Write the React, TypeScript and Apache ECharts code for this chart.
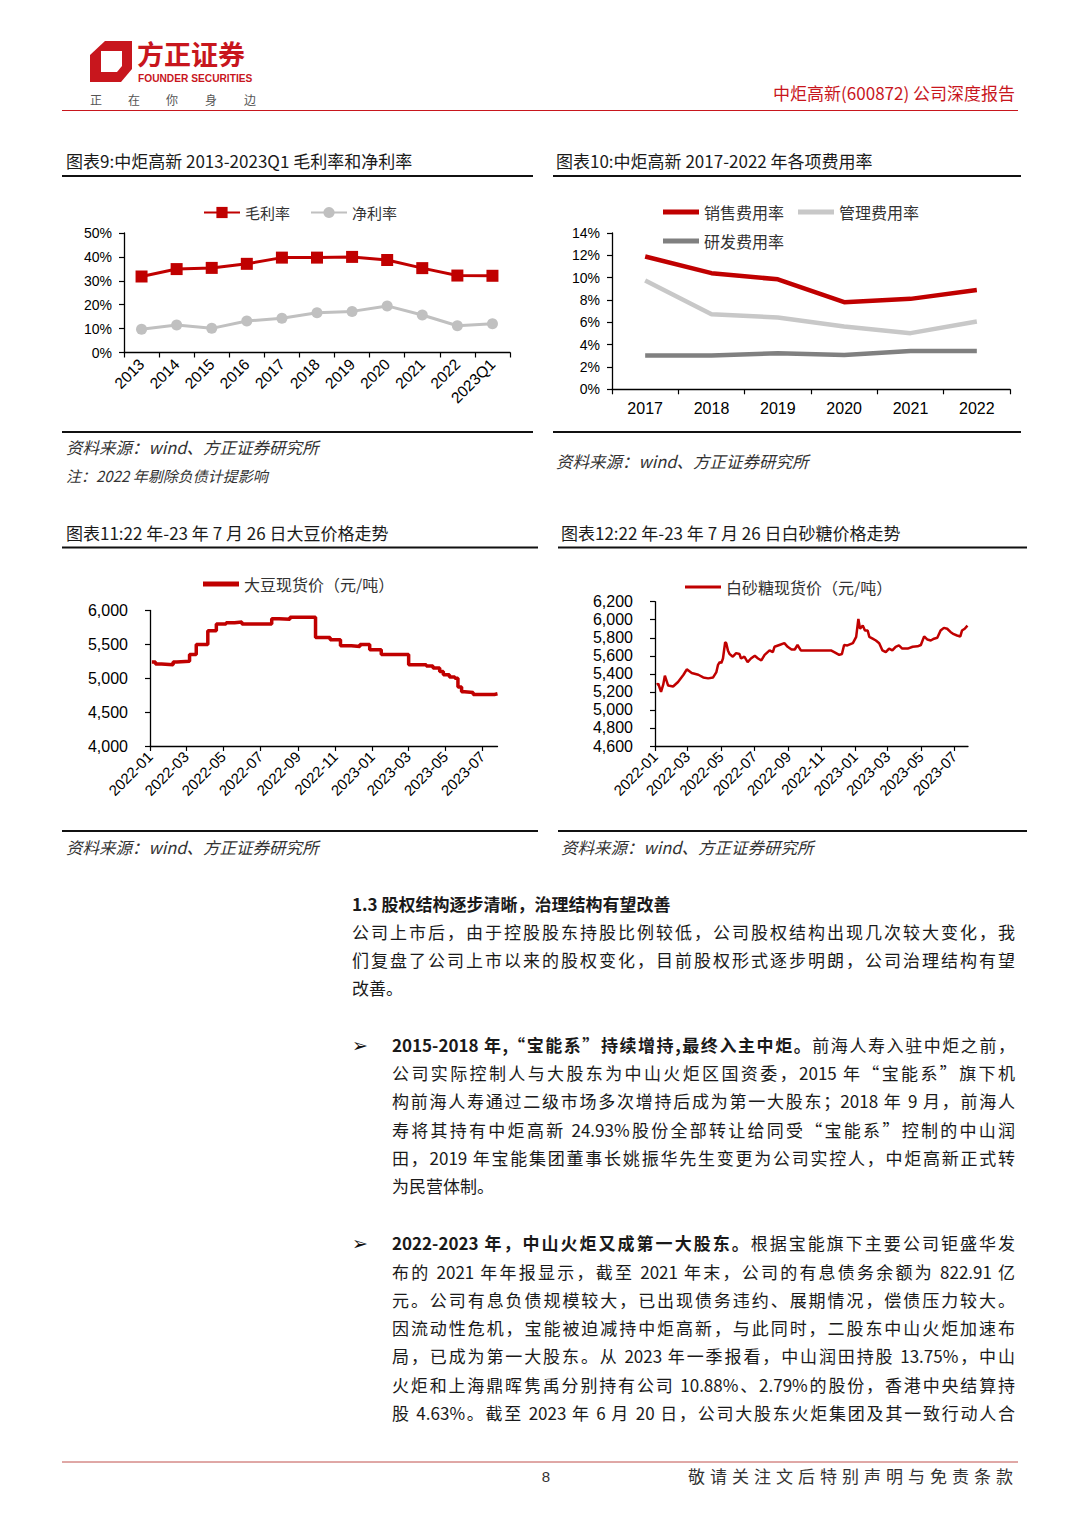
import React, { useEffect, useRef } from "react";
import * as echarts from "echarts";

const RED = "#C00000";
const BRAND = "#C8161D";
const CJK = '"Noto Sans CJK SC"';
const LAT = '"Liberation Sans"';

// ---------- Chart 9 ----------
const years9 = ["2013", "2014", "2015", "2016", "2017", "2018", "2019", "2020", "2021", "2022", "2023Q1"];
const grossMargin = [31.8, 34.9, 35.4, 37.1, 39.7, 39.7, 40.0, 38.7, 35.3, 32.2, 32.1];
const netMargin = [9.7, 11.5, 10.1, 13.2, 14.3, 16.6, 17.2, 19.5, 15.7, 11.2, 12.0];

// ---------- Chart 10 ----------
const years10 = ["2017", "2018", "2019", "2020", "2021", "2022"];
const salesRate = [11.9, 10.4, 9.85, 7.8, 8.1, 8.9];
const adminRate = [9.75, 6.73, 6.43, 5.62, 5.03, 6.07];
const rdRate = [3.02, 3.02, 3.23, 3.08, 3.44, 3.44];

// ---------- Chart 11: soybean spot price (change points) ----------
const soyPrice: [string, number][] = [
  ["2022-01-04", 5240], ["2022-01-10", 5210], ["2022-01-20", 5200], ["2022-02-08", 5240],
  ["2022-02-14", 5250], ["2022-03-07", 5350], ["2022-03-18", 5500], ["2022-04-06", 5700],
  ["2022-04-20", 5800], ["2022-05-06", 5820], ["2022-05-20", 5830], ["2022-06-01", 5800],
  ["2022-07-20", 5880], ["2022-08-01", 5870], ["2022-08-19", 5900], ["2022-09-30", 5600],
  ["2022-10-24", 5570], ["2022-11-10", 5480], ["2022-11-28", 5470], ["2022-12-12", 5500],
  ["2022-12-28", 5420], ["2023-01-16", 5350], ["2023-03-02", 5200], ["2023-03-31", 5180],
  ["2023-04-11", 5150], ["2023-04-22", 5100], ["2023-04-28", 5050], ["2023-05-08", 5020],
  ["2023-05-17", 5000], ["2023-05-22", 4870], ["2023-05-28", 4800], ["2023-06-02", 4790],
  ["2023-06-16", 4760], ["2023-07-21", 4770], ["2023-07-26", 4770],
];

// ---------- Chart 12: white sugar spot price ----------
const sugarPrice: [string, number][] = [
  ["2022-01-04", 5280], ["2022-01-07", 5290], ["2022-01-12", 5200], ["2022-01-16", 5280],
  ["2022-01-19", 5380], ["2022-01-25", 5270], ["2022-02-03", 5260], ["2022-02-12", 5310],
  ["2022-02-22", 5390], ["2022-02-28", 5450], ["2022-03-09", 5410], ["2022-03-21", 5390],
  ["2022-03-30", 5360], ["2022-04-08", 5350], ["2022-04-17", 5360], ["2022-04-23", 5420],
  ["2022-04-26", 5500], ["2022-04-29", 5530], ["2022-05-02", 5520], ["2022-05-05", 5570],
  ["2022-05-09", 5750], ["2022-05-11", 5740], ["2022-05-14", 5660], ["2022-05-17", 5620],
  ["2022-05-23", 5590], ["2022-05-29", 5630], ["2022-06-04", 5620], ["2022-06-07", 5570],
  ["2022-06-13", 5590], ["2022-06-19", 5530], ["2022-06-25", 5570], ["2022-07-02", 5600],
  ["2022-07-08", 5570], ["2022-07-14", 5550], ["2022-07-20", 5610], ["2022-07-29", 5660],
  ["2022-08-04", 5640], ["2022-08-07", 5700], ["2022-08-16", 5720], ["2022-08-25", 5740],
  ["2022-08-31", 5700], ["2022-09-07", 5670], ["2022-09-13", 5670], ["2022-09-18", 5720],
  ["2022-09-24", 5660], ["2022-10-07", 5660], ["2022-11-18", 5660], ["2022-11-24", 5640],
  ["2022-12-03", 5610], ["2022-12-08", 5620], ["2022-12-12", 5720], ["2022-12-18", 5715],
  ["2022-12-28", 5740], ["2023-01-03", 5810], ["2023-01-07", 6010], ["2023-01-10", 5900],
  ["2023-01-15", 5935], ["2023-01-19", 5880], ["2023-01-24", 5880], ["2023-01-27", 5810],
  ["2023-02-02", 5790], ["2023-02-08", 5770], ["2023-02-14", 5740], ["2023-02-20", 5660],
  ["2023-02-26", 5640], ["2023-03-04", 5680], ["2023-03-10", 5660], ["2023-03-16", 5700],
  ["2023-03-22", 5715], ["2023-03-28", 5680], ["2023-04-07", 5680], ["2023-04-16", 5700],
  ["2023-04-25", 5705], ["2023-05-01", 5720], ["2023-05-07", 5815], ["2023-05-13", 5780],
  ["2023-05-19", 5770], ["2023-05-25", 5790], ["2023-05-31", 5800], ["2023-06-06", 5880],
  ["2023-06-12", 5910], ["2023-06-18", 5900], ["2023-06-24", 5865], ["2023-06-30", 5840],
  ["2023-07-06", 5825], ["2023-07-12", 5815], ["2023-07-15", 5880], ["2023-07-20", 5900],
  ["2023-07-25", 5935],
];

// ---------- page text ----------
const headerRight = "中炬高新(600872) 公司深度报告";
const sloganChars = ["正", "在", "你", "身", "边"];
const title9 = "图表9:中炬高新 2013-2023Q1 毛利率和净利率";
const title10 = "图表10:中炬高新 2017-2022 年各项费用率";
const title11 = "图表11:22 年-23 年 7 月 26 日大豆价格走势";
const title12 = "图表12:22 年-23 年 7 月 26 日白砂糖价格走势";
const sourceText = "资料来源：wind、方正证券研究所";
const noteText = "注：2022 年剔除负债计提影响";
const footerText = "敬请关注文后特别声明与免责条款";

const headingText = "1.3 股权结构逐步清晰，治理结构有望改善";
const introLines = [
  "公司上市后，由于控股股东持股比例较低，公司股权结构出现几次较大变化，我",
  "们复盘了公司上市以来的股权变化，目前股权形式逐步明朗，公司治理结构有望",
  "改善。",
];
const bullet1Lead = "2015-2018 年,“宝能系”持续增持,最终入主中炬。";
const bullet1Lines = [
  "前海人寿入驻中炬之前，",
  "公司实际控制人与大股东为中山火炬区国资委，2015 年“宝能系”旗下机",
  "构前海人寿通过二级市场多次增持后成为第一大股东；2018 年 9 月，前海人",
  "寿将其持有中炬高新 24.93%股份全部转让给同受“宝能系”控制的中山润",
  "田，2019 年宝能集团董事长姚振华先生变更为公司实控人，中炬高新正式转",
  "为民营体制。",
];
const bullet2Lead = "2022-2023 年，中山火炬又成第一大股东。";
const bullet2Lines = [
  "根据宝能旗下主要公司钜盛华发",
  "布的 2021 年年报显示，截至 2021 年末，公司的有息债务余额为 822.91 亿",
  "元。公司有息负债规模较大，已出现债务违约、展期情况，偿债压力较大。",
  "因流动性危机，宝能被迫减持中炬高新，与此同时，二股东中山火炬加速布",
  "局，已成为第一大股东。从 2023 年一季报看，中山润田持股 13.75%，中山",
  "火炬和上海鼎晖隽禹分别持有公司 10.88%、2.79%的股份，香港中央结算持",
  "股 4.63%。截至 2023 年 6 月 20 日，公司大股东火炬集团及其一致行动人合",
];

function buildDays(start: string, end: string): string[] {
  const out: string[] = [];
  const d = new Date(start + "T00:00:00Z");
  const e = new Date(end + "T00:00:00Z");
  while (d.getTime() <= e.getTime()) {
    out.push(d.toISOString().slice(0, 10));
    d.setUTCDate(d.getUTCDate() + 1);
  }
  return out;
}
const dayCategories = buildDays("2022-01-01", "2023-07-26");
const isTickDay = (_i: number, v: string) =>
  v.slice(8) === "01" && parseInt(v.slice(5, 7), 10) % 2 === 1;

const thousands = (v: number) => String(v).replace(/\B(?=(\d{3})+(?!\d))/g, ",");

function txt(text: string, x: number, y: number, font: string, fill = "#1a1a1a", align = "left") {
  return {
    type: "text",
    x,
    y,
    silent: true,
    style: { text, font, fill, align, verticalAlign: "middle", textAlign: align, textVerticalAlign: "middle" },
  };
}
function hline(x1: number, x2: number, y: number, stroke = "#111", lineWidth = 2) {
  return { type: "line", silent: true, shape: { x1, y1: y, x2, y2: y }, style: { stroke, lineWidth } };
}

const axisLineStyle = { lineStyle: { color: "#000", width: 1.3 } };
const tickStyle = { show: true, length: 5, lineStyle: { color: "#000", width: 1.2 } };

function buildOption(): any {
  const graphic: any[] = [
    // logo
    { type: "polygon", silent: true, shape: { points: [[105, 41], [132, 41], [132, 69], [121, 82], [90, 82], [90, 55]] }, style: { fill: BRAND } },
    { type: "polygon", silent: true, shape: { points: [[101, 51], [122, 51], [122, 66], [117, 72], [101, 72]] }, style: { fill: "#fff" } },
    txt("方正证券", 137, 53, `bold 27px ${CJK}`, BRAND),
    txt("FOUNDER SECURITIES", 138, 78.5, `bold 10.2px ${LAT}`, BRAND),
    ...sloganChars.map((c, i) => txt(c, [90, 128, 166, 205, 244][i], 99, `12px ${CJK}`, "#555")),
    txt(headerRight, 1015, 92, `17px ${CJK}`, BRAND, "right"),
    hline(62, 1018, 110.5, BRAND, 1.2),
    // titles
    txt(title9, 66, 160, `17px ${CJK}`),
    txt(title10, 556, 160, `17px ${CJK}`),
    hline(62, 533, 176),
    hline(553, 1021, 176),
    hline(62, 533, 432),
    hline(553, 1021, 432),
    txt(sourceText, 66, 447, `italic 16.5px ${CJK}`, "#333"),
    txt(noteText, 66, 475, `italic 15px ${CJK}`, "#333"),
    txt(sourceText, 556, 461, `italic 16.5px ${CJK}`, "#333"),
    txt(title11, 66, 532, `17px ${CJK}`),
    txt(title12, 561, 532, `17px ${CJK}`),
    hline(62, 538, 547.5),
    hline(558, 1027, 547.5),
    hline(62, 538, 831),
    hline(558, 1027, 831),
    txt(sourceText, 66, 847, `italic 16.5px ${CJK}`, "#333"),
    txt(sourceText, 561, 847, `italic 16.5px ${CJK}`, "#333"),
    // footer
    hline(62, 1018, 1462, "#C0504D", 1),
    txt("8", 546, 1476, `15px ${LAT}`, "#333", "center"),
  ];

  const legendText = { color: "#333", fontSize: 16, fontFamily: CJK };

  return {
    animation: false,
    backgroundColor: "#fff",
    graphic,
    legend: [
      {
        data: ["毛利率", "净利率"], left: 198, top: 200, itemWidth: 36, itemHeight: 14, itemGap: 20,
        textStyle: { ...legendText, fontSize: 15 },
      },
      {
        data: ["销售费用率", "管理费用率"], left: 658, top: 199, icon: "rect", itemWidth: 36, itemHeight: 5,
        itemGap: 14, textStyle: legendText,
      },
      {
        data: ["研发费用率"], left: 658, top: 228, icon: "rect", itemWidth: 36, itemHeight: 5,
        textStyle: legendText,
      },
      {
        data: ["大豆现货价（元/吨）"], left: 198, top: 571, icon: "rect", itemWidth: 36, itemHeight: 5,
        textStyle: legendText,
      },
      {
        data: ["白砂糖现货价（元/吨）"], left: 680, top: 574, icon: "rect", itemWidth: 36, itemHeight: 3,
        textStyle: legendText,
      },
    ],
    grid: [
      { left: 124, top: 233, width: 386, height: 119.5 },
      { left: 612, top: 233, width: 398, height: 156.3 },
      { left: 150, top: 610.5, width: 347.5, height: 135.5 },
      { left: 655, top: 601.7, width: 313, height: 144.3 },
    ],
    xAxis: [
      {
        gridIndex: 0, type: "category", data: years9, boundaryGap: true, axisLine: axisLineStyle, axisTick: tickStyle,
        axisLabel: { rotate: 45, color: "#000", fontSize: 15.5, fontFamily: LAT, margin: 9, interval: 0 },
      },
      {
        gridIndex: 1, type: "category", data: years10, boundaryGap: true, axisLine: axisLineStyle, axisTick: tickStyle,
        axisLabel: { color: "#000", fontSize: 16, fontFamily: LAT, margin: 11, interval: 0 },
      },
      {
        gridIndex: 2, type: "category", data: dayCategories, boundaryGap: false, axisLine: axisLineStyle,
        axisTick: { ...tickStyle, interval: isTickDay },
        axisLabel: { rotate: 45, color: "#000", fontSize: 15, fontFamily: LAT, margin: 8, interval: isTickDay, formatter: (v: string) => v.slice(0, 7) },
      },
      {
        gridIndex: 3, type: "category", data: dayCategories, boundaryGap: false, axisLine: axisLineStyle,
        axisTick: { ...tickStyle, interval: isTickDay },
        axisLabel: { rotate: 45, color: "#000", fontSize: 15, fontFamily: LAT, margin: 8, interval: isTickDay, formatter: (v: string) => v.slice(0, 7) },
      },
    ],
    yAxis: [
      {
        gridIndex: 0, type: "value", min: 0, max: 50, interval: 10, axisLine: { show: true, ...axisLineStyle }, axisTick: tickStyle,
        splitLine: { show: false }, axisLabel: { formatter: "{value}%", color: "#000", fontSize: 14, fontFamily: LAT, margin: 12 },
      },
      {
        gridIndex: 1, type: "value", min: 0, max: 14, interval: 2, axisLine: { show: true, ...axisLineStyle }, axisTick: tickStyle,
        splitLine: { show: false }, axisLabel: { formatter: "{value}%", color: "#000", fontSize: 14, fontFamily: LAT, margin: 12 },
      },
      {
        gridIndex: 2, type: "value", min: 4000, max: 6000, interval: 500, axisLine: { show: true, ...axisLineStyle }, axisTick: tickStyle,
        splitLine: { show: false }, axisLabel: { formatter: thousands, color: "#000", fontSize: 16, fontFamily: LAT, margin: 22 },
      },
      {
        gridIndex: 3, type: "value", min: 4600, max: 6200, interval: 200, axisLine: { show: true, ...axisLineStyle }, axisTick: tickStyle,
        splitLine: { show: false }, axisLabel: { formatter: thousands, color: "#000", fontSize: 16, fontFamily: LAT, margin: 22 },
      },
    ],
    series: [
      {
        type: "line", name: "毛利率", xAxisIndex: 0, yAxisIndex: 0, data: grossMargin, symbol: "rect", symbolSize: 12,
        lineStyle: { color: RED, width: 3 }, itemStyle: { color: RED },
      },
      {
        type: "line", name: "净利率", xAxisIndex: 0, yAxisIndex: 0, data: netMargin, symbol: "circle", symbolSize: 11,
        lineStyle: { color: "#C0C0C0", width: 3 }, itemStyle: { color: "#C0C0C0" },
      },
      {
        type: "line", name: "销售费用率", xAxisIndex: 1, yAxisIndex: 1, data: salesRate, symbol: "none",
        lineStyle: { color: RED, width: 4.5 }, itemStyle: { color: RED },
      },
      {
        type: "line", name: "管理费用率", xAxisIndex: 1, yAxisIndex: 1, data: adminRate, symbol: "none",
        lineStyle: { color: "#C8C8C8", width: 4.5 }, itemStyle: { color: "#C8C8C8" },
      },
      {
        type: "line", name: "研发费用率", xAxisIndex: 1, yAxisIndex: 1, data: rdRate, symbol: "none",
        lineStyle: { color: "#808080", width: 4.5 }, itemStyle: { color: "#808080" },
      },
      {
        type: "line", name: "大豆现货价（元/吨）", xAxisIndex: 2, yAxisIndex: 2, data: soyPrice, step: "end", symbol: "none",
        lineStyle: { color: RED, width: 3.5 }, itemStyle: { color: RED },
      },
      {
        type: "line", name: "白砂糖现货价（元/吨）", xAxisIndex: 3, yAxisIndex: 3, data: sugarPrice, symbol: "none",
        lineStyle: { color: RED, width: 2.5 }, itemStyle: { color: RED },
      },
    ],
  };
}

const lineBase: React.CSSProperties = {
  position: "absolute",
  height: 28,
  lineHeight: "28px",
  fontSize: 17,
  fontFamily: CJK,
  color: "#1a1a1a",
  whiteSpace: "nowrap",
  overflow: "visible",
};

function Line(props: { x: number; y: number; w: number; justify: boolean; bold?: boolean; children: React.ReactNode }) {
  const { x, y, w, justify, bold, children } = props;
  return (
    <div
      style={{
        ...lineBase,
        left: x,
        top: y - 14,
        width: w,
        fontWeight: bold ? 700 : 400,
        textAlign: justify ? "justify" : "left",
        textAlignLast: justify ? "justify" : "left",
        whiteSpace: justify ? "normal" : "nowrap",
      } as React.CSSProperties}
    >
      {children}
    </div>
  );
}

function Bullet(props: { y: number }) {
  return (
    <div style={{ position: "absolute", left: 352, top: props.y - 14, height: 28, lineHeight: "28px", fontSize: 19, fontFamily: '"DejaVu Sans"', color: "#111" }}>
      ➢
    </div>
  );
}

function Prose() {
  const introY = [932, 960, 988];
  const b1Y = [1045, 1073, 1101, 1130, 1158, 1186];
  const b2Y = [1243, 1272, 1300, 1328, 1356, 1385, 1413];
  return (
    <>
      <Line x={352} y={904} w={400} justify={false} bold>
        {headingText}
      </Line>
      {introLines.map((t, i) => (
        <Line key={"i" + i} x={352} y={introY[i]} w={663} justify={i < introLines.length - 1}>
          {t}
        </Line>
      ))}
      <Bullet y={b1Y[0]} />
      {bullet1Lines.map((t, i) => (
        <Line key={"a" + i} x={392} y={b1Y[i]} w={623} justify={i < bullet1Lines.length - 1}>
          {i === 0 ? <b style={{ fontWeight: 700 }}>{bullet1Lead}</b> : null}
          {t}
        </Line>
      ))}
      <Bullet y={b2Y[0]} />
      {bullet2Lines.map((t, i) => (
        <Line key={"b" + i} x={392} y={b2Y[i]} w={623} justify={true}>
          {i === 0 ? <b style={{ fontWeight: 700 }}>{bullet2Lead}</b> : null}
          {t}
        </Line>
      ))}
      <div
        style={{
          position: "absolute", left: 688, top: 1476 - 14, width: 325, height: 28, lineHeight: "28px",
          fontSize: 17, fontFamily: CJK, color: "#333", textAlign: "justify", textAlignLast: "justify",
        } as React.CSSProperties}
      >
        {footerText}
      </div>
    </>
  );
}

export default function App() {
  const ref = useRef<HTMLDivElement>(null);
  useEffect(() => {
    if (!ref.current) return;
    const chart = echarts.init(ref.current, undefined, { renderer: "svg" });
    chart.setOption(buildOption());
    return () => chart.dispose();
  }, []);
  return (
    <div style={{ position: "absolute", left: 0, top: 0, width: 1080, height: 1527, background: "#fff", overflow: "hidden" }}>
      <div ref={ref} style={{ position: "absolute", left: 0, top: 0, width: 1080, height: 1527 }} />
      <Prose />
    </div>
  );
}
